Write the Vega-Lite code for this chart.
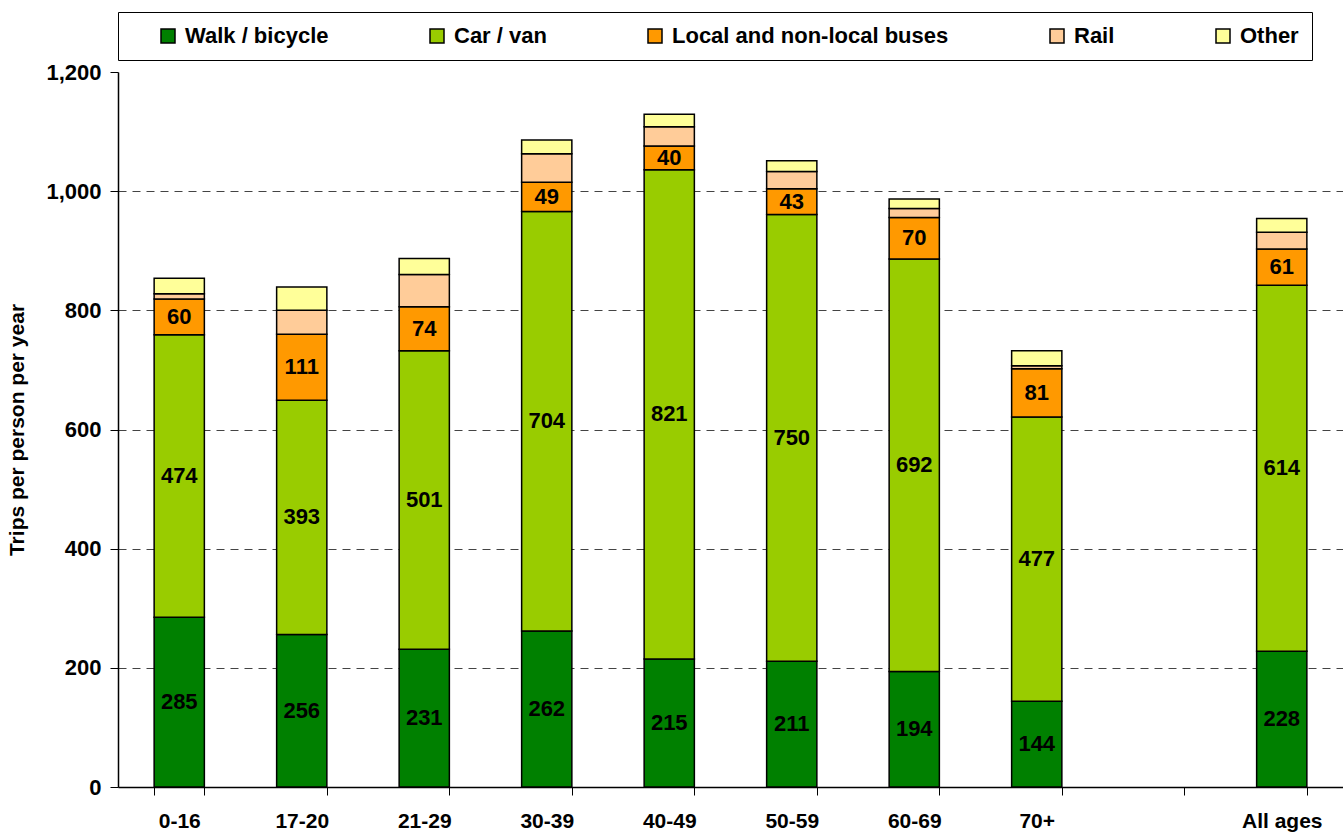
{
  "$schema": "https://vega.github.io/schema/vega-lite/v6.json",
  "width": 1225,
  "height": 715,
  "autosize": {"type": "none"},
  "padding": {"left": 118, "top": 72, "right": 0, "bottom": 45},
  "background": "white",
  "config": {
    "font": "Liberation Sans",
    "view": {"stroke": null},
    "axis": {"labelFont": "Liberation Sans", "titleFont": "Liberation Sans", "labelFontWeight": "bold", "titleFontWeight": "bold", "labelColor": "black", "titleColor": "black", "domainColor": "black", "tickColor": "black"}
  },
  "data": {
    "values": [
      {"age": "0-16", "mode": "Walk / bicycle", "k": 0, "v": 285},
      {"age": "0-16", "mode": "Car / van", "k": 1, "v": 474},
      {"age": "0-16", "mode": "Local and non-local buses", "k": 2, "v": 60},
      {"age": "0-16", "mode": "Rail", "k": 3, "v": 9},
      {"age": "0-16", "mode": "Other", "k": 4, "v": 26},
      {"age": "17-20", "mode": "Walk / bicycle", "k": 0, "v": 256},
      {"age": "17-20", "mode": "Car / van", "k": 1, "v": 393},
      {"age": "17-20", "mode": "Local and non-local buses", "k": 2, "v": 111},
      {"age": "17-20", "mode": "Rail", "k": 3, "v": 40},
      {"age": "17-20", "mode": "Other", "k": 4, "v": 39},
      {"age": "21-29", "mode": "Walk / bicycle", "k": 0, "v": 231},
      {"age": "21-29", "mode": "Car / van", "k": 1, "v": 501},
      {"age": "21-29", "mode": "Local and non-local buses", "k": 2, "v": 74},
      {"age": "21-29", "mode": "Rail", "k": 3, "v": 54},
      {"age": "21-29", "mode": "Other", "k": 4, "v": 27},
      {"age": "30-39", "mode": "Walk / bicycle", "k": 0, "v": 262},
      {"age": "30-39", "mode": "Car / van", "k": 1, "v": 704},
      {"age": "30-39", "mode": "Local and non-local buses", "k": 2, "v": 49},
      {"age": "30-39", "mode": "Rail", "k": 3, "v": 48},
      {"age": "30-39", "mode": "Other", "k": 4, "v": 23},
      {"age": "40-49", "mode": "Walk / bicycle", "k": 0, "v": 215},
      {"age": "40-49", "mode": "Car / van", "k": 1, "v": 821},
      {"age": "40-49", "mode": "Local and non-local buses", "k": 2, "v": 40},
      {"age": "40-49", "mode": "Rail", "k": 3, "v": 32},
      {"age": "40-49", "mode": "Other", "k": 4, "v": 21},
      {"age": "50-59", "mode": "Walk / bicycle", "k": 0, "v": 211},
      {"age": "50-59", "mode": "Car / van", "k": 1, "v": 750},
      {"age": "50-59", "mode": "Local and non-local buses", "k": 2, "v": 43},
      {"age": "50-59", "mode": "Rail", "k": 3, "v": 29},
      {"age": "50-59", "mode": "Other", "k": 4, "v": 18},
      {"age": "60-69", "mode": "Walk / bicycle", "k": 0, "v": 194},
      {"age": "60-69", "mode": "Car / van", "k": 1, "v": 692},
      {"age": "60-69", "mode": "Local and non-local buses", "k": 2, "v": 70},
      {"age": "60-69", "mode": "Rail", "k": 3, "v": 15},
      {"age": "60-69", "mode": "Other", "k": 4, "v": 16},
      {"age": "70+", "mode": "Walk / bicycle", "k": 0, "v": 144},
      {"age": "70+", "mode": "Car / van", "k": 1, "v": 477},
      {"age": "70+", "mode": "Local and non-local buses", "k": 2, "v": 81},
      {"age": "70+", "mode": "Rail", "k": 3, "v": 5},
      {"age": "70+", "mode": "Other", "k": 4, "v": 25},
      {"age": "All ages", "mode": "Walk / bicycle", "k": 0, "v": 228},
      {"age": "All ages", "mode": "Car / van", "k": 1, "v": 614},
      {"age": "All ages", "mode": "Local and non-local buses", "k": 2, "v": 61},
      {"age": "All ages", "mode": "Rail", "k": 3, "v": 28},
      {"age": "All ages", "mode": "Other", "k": 4, "v": 23}
    ]
  },
  "encoding": {
    "x": {
      "field": "age", "type": "nominal",
      "scale": {"domain": ["0-16", "17-20", "21-29", "30-39", "40-49", "50-59", "60-69", "70+", " ", "All ages"], "paddingInner": 0.59, "paddingOuter": 0.295},
      "axis": {"title": null, "labelAngle": 0, "labelFontSize": 21, "tickBand": "extent", "tickSize": 8, "labelPadding": 15, "domainWidth": 1.5, "tickWidth": 1}
    },
    "y": {
      "field": "v", "type": "quantitative", "aggregate": "sum", "stack": "zero",
      "scale": {"domain": [0, 1200], "nice": false},
      "axis": {
        "title": "Trips per person per year", "titleFontSize": 21, "titlePadding": 18,
        "values": [0, 200, 400, 600, 800, 1000, 1200], "format": ",d",
        "labelFontSize": 22, "labelPadding": 9, "tickSize": 8, "domainWidth": 1.5,
        "grid": true, "gridDash": [8, 6], "gridWidth": 1,
        "gridColor": {"condition": {"test": "datum.value == 0 || datum.value == 1200", "value": null}, "value": "#444444"}
      }
    },
    "order": {"field": "k", "type": "quantitative", "aggregate": "min"}
  },
  "layer": [
    {
      "mark": {"type": "bar", "stroke": "black", "strokeWidth": 1.5},
      "encoding": {
        "color": {
          "field": "mode", "type": "nominal",
          "scale": {"domain": ["Walk / bicycle", "Car / van", "Local and non-local buses", "Rail", "Other"], "range": ["#008000", "#99CC00", "#FF9900", "#FFCC99", "#FFFF99"]},
          "legend": {
            "title": null, "orient": "none", "legendX": 0, "legendY": -60,
            "direction": "horizontal", "columns": 5, "columnPadding": 71,
            "symbolType": "square", "symbolSize": 196, "symbolStrokeColor": "black", "symbolStrokeWidth": 1.5,
            "symbolOffset": 26, "labelOffset": 6,
            "labelFont": "Liberation Sans", "labelFontWeight": "bold", "labelFontSize": 22, "labelColor": "black", "labelLimit": 400,
            "strokeColor": "black", "fillColor": "white", "padding": 13
          }
        }
      }
    },
    {
      "transform": [{"filter": "datum.k < 3"}],
      "mark": {"type": "text", "font": "Liberation Sans", "fontWeight": "bold", "fontSize": 22, "color": "black", "baseline": "middle"},
      "encoding": {
        "detail": {"field": "mode", "type": "nominal"},
        "y": {"field": "v", "type": "quantitative", "aggregate": "sum", "stack": "zero", "bandPosition": 0.5},
        "text": {"field": "v", "type": "quantitative", "aggregate": "sum"}
      }
    }
  ]
}
